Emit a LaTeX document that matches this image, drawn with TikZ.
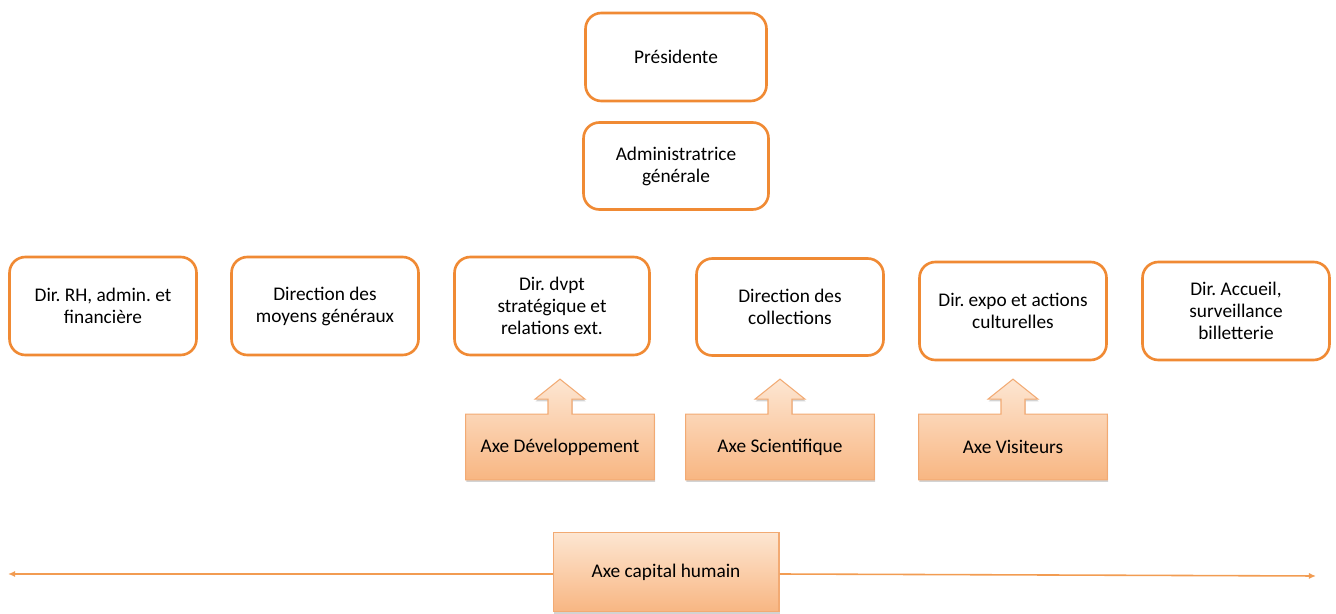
\documentclass[tikz,border=0pt]{standalone}
\usepackage{fontspec}
\setmainfont{Carlito}
\frenchspacing
\usetikzlibrary{arrows.meta,positioning,calc,backgrounds,shadows}
\definecolor{orgline}{RGB}{240,138,52}
\definecolor{axetop}{RGB}{253,230,210}
\definecolor{axebot}{RGB}{248,182,130}
\definecolor{axeedge}{RGB}{242,170,115}

\begin{document}
\begin{tikzpicture}[
  x=0.02cm, y=-0.02cm,
  dirbox/.style={draw=orgline, line width=1.5pt, rounded corners=9pt, fill=white, align=center, font=\fontsize{11}{12.5}\selectfont, minimum width=3.74cm, minimum height=1.96cm, inner sep=2pt},
  axebox/.style={align=center, font=\fontsize{11}{12.5}\selectfont, minimum width=3.76cm, minimum height=1.3cm, inner sep=2pt},
  axefill/.style={draw=axeedge, line width=0.6pt, top color=axetop, bottom color=axebot, drop shadow={shadow xshift=0.4pt, shadow yshift=-1.2pt, opacity=0.35}},
  humline/.style={draw=orgline!85, line width=0.9pt, -{Latex[length=4pt, width=3.5pt]}},
]
\useasboundingbox (0,0) rectangle (1336,614);
% top of the chart
\node[dirbox, minimum width=3.62cm, minimum height=1.76cm] (pres) at (676,57) {Présidente};
\node[dirbox, minimum width=3.70cm, minimum height=1.74cm] (admin) at (676,166) {Administratrice\\générale};
% directions
\node[dirbox] (rh) at (103,306) {Dir. RH, admin. et\\financière};
\node[dirbox] (moy) at (325,306) {Direction des\\moyens généraux};
\node[dirbox, minimum width=3.90cm] (dvpt) at (552,306) {Dir. dvpt\\stratégique et\\relations ext.};
\node[dirbox, minimum height=1.94cm] (coll) at (790,307) {Direction des\\collections};
\node[dirbox] (expo) at (1013,311) {Dir. expo et actions\\culturelles};
\node[dirbox] (acc) at (1236,311) {Dir. Accueil,\\surveillance\\billetterie};
% axes
\node[axebox] (dev) at (560,447) {Axe Développement};
\node[axebox] (sci) at (780,447) {Axe Scientifique};
\node[axebox] (vis) at (1013,447) {Axe Visiteurs};
\begin{scope}[on background layer]
\foreach \ax in {dev,sci,vis}{
  \path[axefill] (\ax.south west) -- (\ax.north west)
    -- ($(\ax.north)+(-12,0)$) -- ($(\ax.north)+(-12,-15)$) -- ($(\ax.north)+(-25,-15)$)
    -- ($(\ax.north)+(0,-35)$)
    -- ($(\ax.north)+(25,-15)$) -- ($(\ax.north)+(12,-15)$) -- ($(\ax.north)+(12,0)$)
    -- (\ax.north east) -- (\ax.south east) -- cycle;
}
\end{scope}
% capital humain
\node[axebox, minimum width=4.52cm, minimum height=1.58cm, axefill] (hum) at (666,572) {Axe capital humain};
\coordinate (left) at (8,574);
\coordinate (right) at (1316,576);
\draw[humline] (hum.west |- left) -- (left);
\draw[humline] (hum.east |- left) -- (right);
\end{tikzpicture}
\end{document}
